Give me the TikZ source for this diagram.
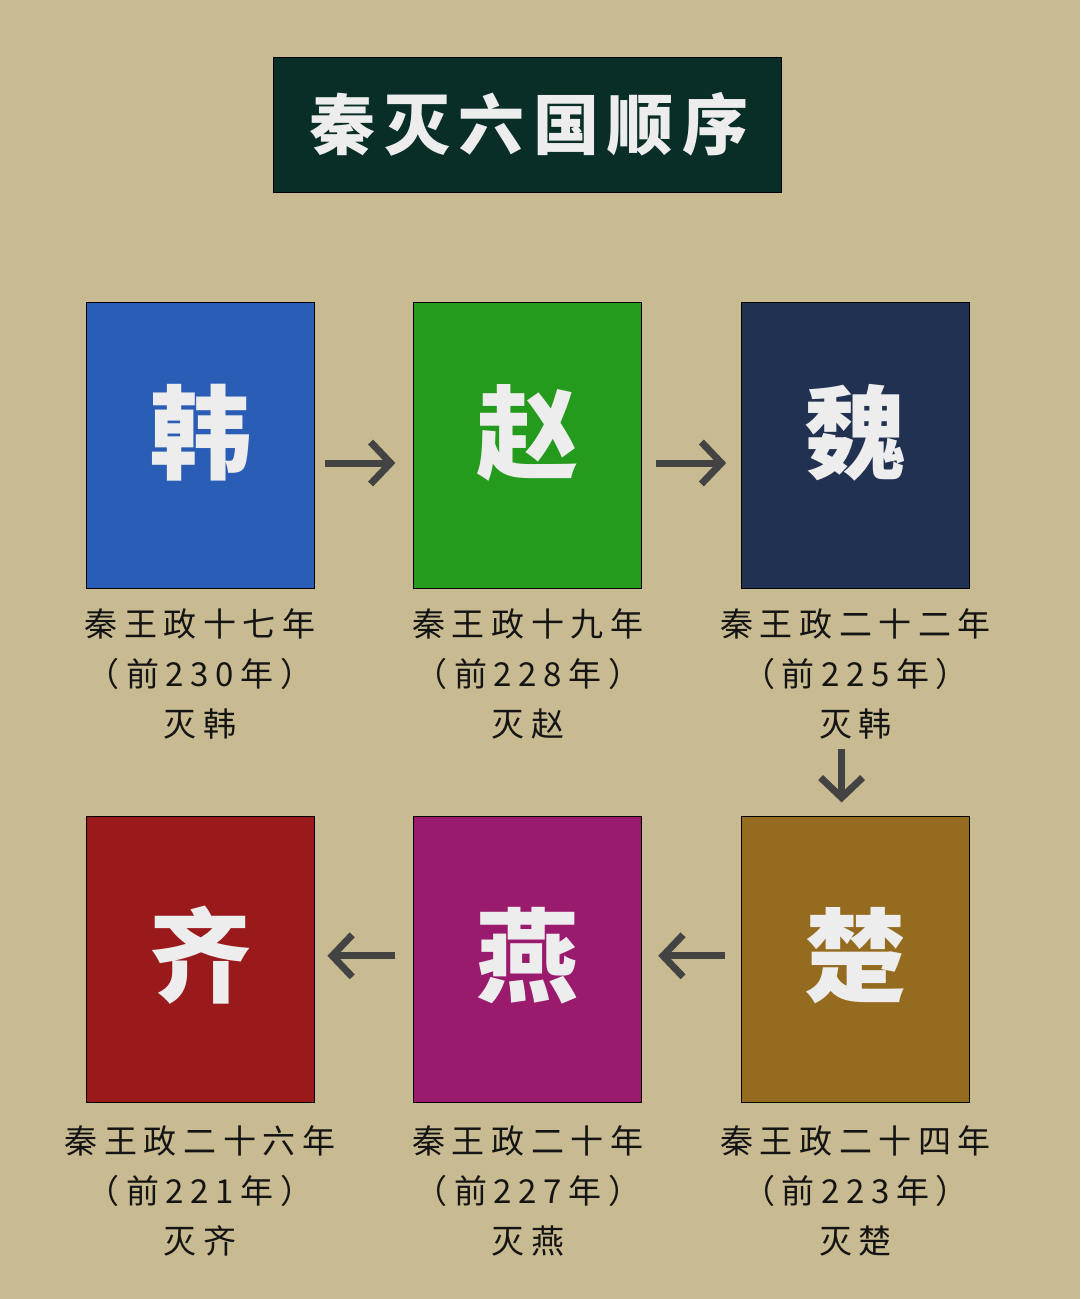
\documentclass[tikz,border=0pt]{standalone}
\usepackage{fontspec}
\usepackage{xcolor}
\usepackage{tikz}
\usetikzlibrary{positioning, arrows.meta}
\newfontfamily\cjk{Noto Sans CJK SC}[LetterSpace=20]
\newfontfamily\cjkhead{Noto Sans CJK SC}[LetterSpace=13]
\newfontfamily\cjkbig{Noto Sans CJK SC}
\definecolor{bgtan}{HTML}{C8BB91}
\definecolor{titlegreen}{HTML}{092E28}
\definecolor{charwhite}{HTML}{EDEDED}
\definecolor{inkblack}{HTML}{141414}
\definecolor{arrowgray}{HTML}{434343}
\definecolor{hanblue}{HTML}{2A5DB6}
\definecolor{zhaogreen}{HTML}{259B1D}
\definecolor{weinavy}{HTML}{213151}
\definecolor{chubrown}{HTML}{956B1F}
\definecolor{yanpurple}{HTML}{9A1A6E}
\definecolor{qired}{HTML}{9A1A1C}
\tikzstyle{titlebox} = [rectangle,
minimum width=508pt,
minimum height=135pt,
draw=black,
line width=0.8pt,
fill=titlegreen,
text=charwhite,
font=\cjkhead\bfseries\fontsize{66pt}{66pt}\selectfont]
\tikzstyle{country} = [rectangle,
minimum width=228pt,
minimum height=286pt,
draw=black,
line width=0.8pt,
text=charwhite,
text height=90pt,
text depth=38pt,
font=\cjkbig\bfseries\fontsize{102pt}{102pt}\selectfont]
\tikzstyle{yeartext} = [align=center,
inner sep=0pt,
text=inkblack,
font=\cjk\fontsize{33pt}{50pt}\selectfont]
\tikzstyle{arrow} = [line width=7pt, draw=arrowgray, -{Straight Barb[length=20pt, width=42pt]}]

\begin{document}
\begin{tikzpicture}
\useasboundingbox (0,0) rectangle (1080pt,-1299pt);
\fill[bgtan] (0,0) rectangle (1080pt,-1299pt);

\node (title) [titlebox] at (527pt,-124.5pt) {\hspace*{4pt}秦灭六国顺序};

\node (han) [country, fill=hanblue] at (200pt,-445pt) {韩};
\node (zhao) [country, fill=zhaogreen, right=99pt of han] {赵};
\node (wei) [country, fill=weinavy, right=99pt of zhao] {魏};
\node (chu) [country, fill=chubrown, text depth=20pt, below=228pt of wei] {楚};
\node (yan) [country, fill=yanpurple, text depth=20pt, left=99pt of chu] {燕};
\node (qi) [country, fill=qired, text depth=20pt, left=99pt of yan] {齐};

\node (hantext) [yeartext, below=20pt of han] {秦王政十七年\\（前230年）\\灭韩};
\node (zhaotext) [yeartext, below=20pt of zhao] {秦王政十九年\\（前228年）\\灭赵};
\node (weitext) [yeartext, below=20pt of wei] {秦王政二十二年\\（前225年）\\灭韩};
\node (chutext) [yeartext, below=22pt of chu] {秦王政二十四年\\（前223年）\\灭楚};
\node (yantext) [yeartext, below=22pt of yan] {秦王政二十年\\（前227年）\\灭燕};
\node (qitext) [yeartext, below=22pt of qi] {秦王政二十六年\\（前221年）\\灭齐};

\draw [arrow, shorten <=11pt, shorten >=18pt] ([yshift=-18pt]han.east) -- ([yshift=-18pt]zhao.west);
\draw [arrow, shorten <=14pt, shorten >=15pt] ([yshift=-18pt]zhao.east) -- ([yshift=-18pt]wei.west);
\draw [arrow, shorten <=10pt, shorten >=14pt] ([xshift=-14pt]weitext.south) -- ([xshift=-14pt]chu.north);
\draw [arrow, shorten <=16pt, shorten >=16pt] ([yshift=4pt]chu.west) -- ([yshift=4pt]yan.east);
\draw [arrow, shorten <=18pt, shorten >=13pt] ([yshift=4pt]yan.west) -- ([yshift=4pt]qi.east);
\end{tikzpicture}
\end{document}
